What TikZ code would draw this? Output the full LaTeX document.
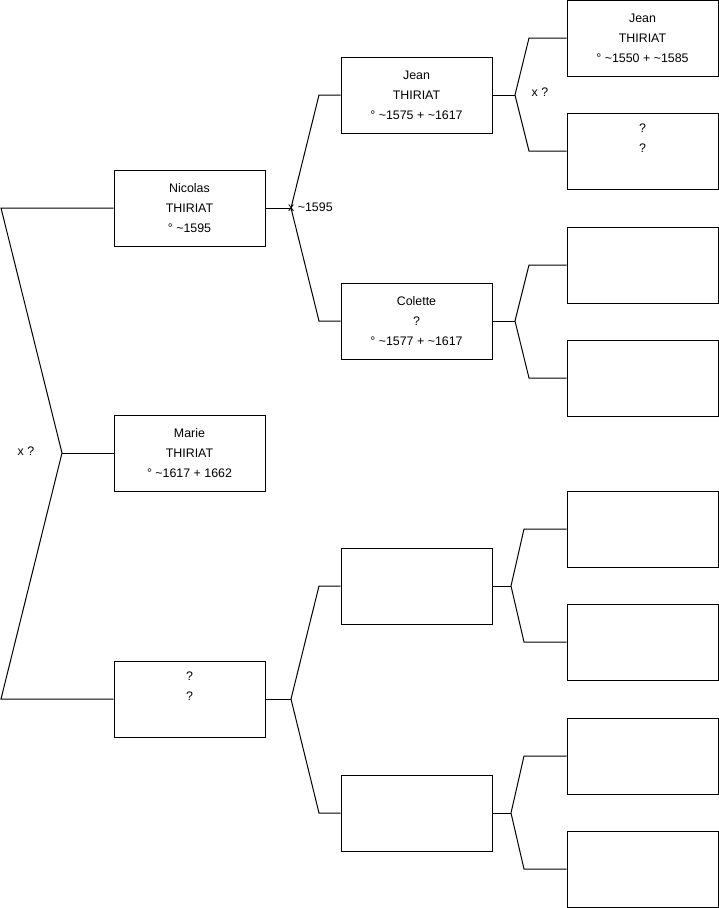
\documentclass[tikz,border=0pt]{standalone}
\usepackage{fontspec}
\setmainfont{Liberation Sans}
\usetikzlibrary{positioning}

\begin{document}
\begin{tikzpicture}[
    x=1pt, y=-1pt,
    every node/.style={font=\fontsize{12.4}{20}\selectfont},
    person/.style={draw, line width=1pt, align=center, minimum width=151pt,
                minimum height=76pt, inner sep=0pt},
    link/.style={line width=1pt},
    union/.style={inner sep=1pt}
]
\useasboundingbox (0,0) rectangle (719,908);
% generation 1
\node[person] (nicolas) at (189.5,208) {Nicolas\\THIRIAT\\° \textasciitilde1595};
\node[person] (marie) at (189.5,453) {Marie\\THIRIAT\\° \textasciitilde1617 + 1662};
\node[person] (conj) at (189.5,699) {?\\?\\\strut};
% generation 2
\node[person] (jean) at (416.5,95) {Jean\\THIRIAT\\° \textasciitilde1575 + \textasciitilde1617};
\node[person] (colette) at (416.5,321) {Colette\\?\\° \textasciitilde1577 + \textasciitilde1617};
\node[person] (gp3) at (416.5,586) {};
\node[person] (gp4) at (416.5,813) {};
% generation 3
\node[person] (jeanp) at (642.5,38) {Jean\\THIRIAT\\° \textasciitilde1550 + \textasciitilde1585};
\node[person] (jeanm) at (642.5,151) {?\\?\\\strut};
\node[person] (colp) at (642.5,265) {};
\node[person] (colm) at (642.5,378) {};
\node[person] (gp3p) at (642.5,529) {};
\node[person] (gp3m) at (642.5,642) {};
\node[person] (gp4p) at (642.5,756) {};
\node[person] (gp4m) at (642.5,869) {};

% forks
\coordinate (f0) at (62,453);
\coordinate (f0a) at (1,208);
\coordinate (f0b) at (1,699);
\coordinate (f1) at (291,208);
\coordinate (f1a) at (319,95);
\coordinate (f1b) at (319,321);
\coordinate (f2) at (291,699);
\coordinate (f2a) at (319,586);
\coordinate (f2b) at (319,813);
\coordinate (f3) at (515,95);
\coordinate (f3a) at (529,38);
\coordinate (f3b) at (529,151);
\coordinate (f4) at (515,321);
\coordinate (f4a) at (529,265);
\coordinate (f4b) at (529,378);
\coordinate (f5) at (511,586);
\coordinate (f5a) at (524,529);
\coordinate (f5b) at (524,642);
\coordinate (f6) at (511,813);
\coordinate (f6a) at (524,756);
\coordinate (f6b) at (524,869);

\draw[link] (nicolas.west) -- (f0a) -- (f0) -- (f0b) -- (conj.west);
\draw[link] (f0) -- (marie.west);
\draw[link] (nicolas.east) -- (f1);
\draw[link] (jean.west) -- (f1a) -- (f1) -- (f1b) -- (colette.west);
\draw[link] (conj.east) -- (f2);
\draw[link] (gp3.west) -- (f2a) -- (f2) -- (f2b) -- (gp4.west);
\draw[link] (jean.east) -- (f3);
\draw[link] (jeanp.west) -- (f3a) -- (f3) -- (f3b) -- (jeanm.west);
\draw[link] (colette.east) -- (f4);
\draw[link] (colp.west) -- (f4a) -- (f4) -- (f4b) -- (colm.west);
\draw[link] (gp3.east) -- (f5);
\draw[link] (gp3p.west) -- (f5a) -- (f5) -- (f5b) -- (gp3m.west);
\draw[link] (gp4.east) -- (f6);
\draw[link] (gp4p.west) -- (f6a) -- (f6) -- (f6b) -- (gp4m.west);

% unions
\node[union] (u0) at (26,451) {x ?};
\node[union, anchor=west] (u1) at (287,207) {x \textasciitilde1595};
\node[union] (u3) at (540,92) {x ?};
\end{tikzpicture}
\end{document}
